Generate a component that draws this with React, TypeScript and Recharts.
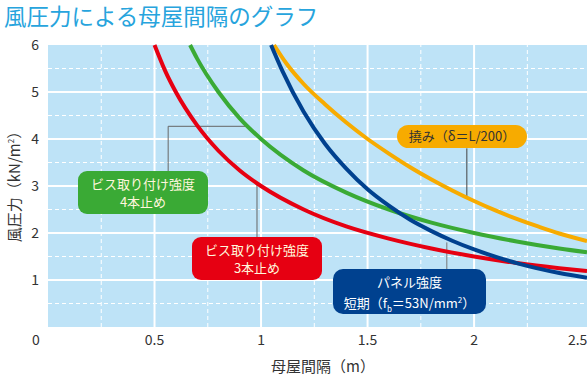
import React from 'react';
import {
  CartesianGrid,
  Line,
  LineChart,
  ReferenceLine,
  XAxis,
  YAxis,
} from 'recharts';

// 母屋間隔 (m) と 風圧力 (kN/m²) — 図から読み取った値
const redX = [0.5, 0.55, 0.6, 0.7, 0.8, 0.9, 1.0, 1.2, 1.4, 1.6, 1.8, 2.0, 2.2, 2.4, 2.53];
const redY = [6.0, 5.45, 5.0, 4.29, 3.75, 3.33, 3.0, 2.5, 2.14, 1.88, 1.67, 1.5, 1.36, 1.25, 1.19];

const greenX = [0.667, 0.7, 0.8, 0.9, 1.0, 1.2, 1.4, 1.6, 1.8, 2.0, 2.2, 2.4, 2.53];
const greenY = [6.0, 5.71, 5.0, 4.44, 4.0, 3.33, 2.86, 2.5, 2.22, 2.0, 1.82, 1.67, 1.59];

const blueX = [1.047, 1.1, 1.2, 1.3, 1.4, 1.5, 1.6, 1.7, 1.8, 1.9, 2.0, 2.2, 2.4, 2.53];
const blueY = [6.0, 5.45, 4.58, 3.9, 3.37, 2.93, 2.58, 2.28, 2.04, 1.83, 1.65, 1.36, 1.15, 1.05];

const orangeX = [1.061, 1.12, 1.2, 1.3, 1.4, 1.5, 1.6, 1.7, 1.8, 1.9, 2.0, 2.1, 2.2, 2.3, 2.4, 2.53];
const orangeY = [6.0, 5.6, 5.17, 4.74, 4.35, 4.0, 3.69, 3.4, 3.14, 2.9, 2.68, 2.48, 2.3, 2.14, 1.99, 1.83];

const xTicks = [0, 0.5, 1, 1.5, 2, 2.5];
const yTicks = [1, 2, 3, 4, 5, 6];
const majorX = [0.5, 1, 1.5, 2];
const minorX = [0.25, 0.75, 1.25, 1.75, 2.25];
const majorY = [1, 2, 3, 4, 5];
const minorY = [0.5, 1.5, 2.5, 3.5, 4.5, 5.5];

const toPoints = (xs: number[], ys: number[]) => xs.map((x, i) => ({ x, v: ys[i] }));

const FONT = '"Noto Sans CJK JP", "Noto Sans", sans-serif';
const BG = '#BEE3F7';

const XTick = (props: any) => {
  const { x, y, payload } = props;
  // 0 は左下角、2.5 は右端に寄せる
  const shift = payload.value === 0 ? -12 : payload.value === 2.5 ? -3 : 0;
  return (
    <text x={x + shift} y={y} dy="0.71em" textAnchor="middle" fill="#333" fontSize={14} fontFamily={FONT}>
      {payload.value}
    </text>
  );
};

const boxBase: React.CSSProperties = {
  position: 'absolute',
  fontFamily: FONT,
  fontSize: 13,
  lineHeight: '18px',
  textAlign: 'center',
  boxSizing: 'border-box',
};

export default function App() {
  return (
    <div style={{ position: 'absolute', left: 0, top: 0, width: 587, height: 377, background: '#fff', overflow: 'hidden' }}>
      <LineChart width={587} height={377} margin={{ top: 45, right: 0, bottom: 20, left: 0 }}>
        <CartesianGrid horizontal={false} vertical={false} fill={BG} stroke="none" />
        <XAxis
          dataKey="x"
          type="number"
          domain={[0, 2.53]}
          ticks={xTicks}
          allowDataOverflow
          axisLine={false}
          tickLine={false}
          height={30}
          tickMargin={2}
          tick={<XTick />}
          interval={0}
        />
        <YAxis
          type="number"
          domain={[0, 6]}
          ticks={yTicks}
          axisLine={false}
          tickLine={false}
          width={48}
          tickMargin={3}
          tick={{ fill: '#333', fontSize: 14, fontFamily: FONT }}
          interval={0}
        />
        {minorX.map((v) => (
          <ReferenceLine key={`mx${v}`} x={v} stroke="#fff" strokeWidth={1} strokeDasharray="4 3" />
        ))}
        {minorY.map((v) => (
          <ReferenceLine key={`my${v}`} y={v} stroke="#fff" strokeWidth={1} strokeDasharray="4 3" />
        ))}
        {majorX.map((v) => (
          <ReferenceLine key={`Mx${v}`} x={v} stroke="#fff" strokeWidth={2} />
        ))}
        {majorY.map((v) => (
          <ReferenceLine key={`My${v}`} y={v} stroke="#fff" strokeWidth={2} />
        ))}

        {/* 引き出し線 */}
        <ReferenceLine segment={[{ x: 0.564, y: 3.31 }, { x: 0.564, y: 4.27 }]} stroke="#666" strokeWidth={1} />
        <ReferenceLine segment={[{ x: 0.564, y: 4.27 }, { x: 0.925, y: 4.27 }]} stroke="#666" strokeWidth={1} />
        <ReferenceLine segment={[{ x: 0.981, y: 1.91 }, { x: 0.981, y: 3.06 }]} stroke="#666" strokeWidth={1} />
        <ReferenceLine segment={[{ x: 1.966, y: 2.75 }, { x: 1.966, y: 3.8 }]} stroke="#444" strokeWidth={1} />
        <ReferenceLine segment={[{ x: 1.872, y: 1.23 }, { x: 1.872, y: 1.8 }]} stroke="#777" strokeWidth={1} />

        <Line data={toPoints(redX, redY)} dataKey="v" type="monotone" stroke="#E60012" strokeWidth={4} dot={false} isAnimationActive={false} />
        <Line data={toPoints(greenX, greenY)} dataKey="v" type="monotone" stroke="#3AAA35" strokeWidth={4} dot={false} isAnimationActive={false} />
        <Line data={toPoints(orangeX, orangeY)} dataKey="v" type="monotone" stroke="#F7AB00" strokeWidth={4} dot={false} isAnimationActive={false} />
        <Line data={toPoints(blueX, blueY)} dataKey="v" type="monotone" stroke="#00418F" strokeWidth={4} dot={false} isAnimationActive={false} />
      </LineChart>

      <div
        style={{
          position: 'absolute',
          left: 4,
          top: 3,
          fontFamily: FONT,
          fontSize: 22.5,
          color: '#27A4DD',
          whiteSpace: 'nowrap',
          lineHeight: '24px',
        }}
      >
        風圧力による母屋間隔のグラフ
      </div>

      {/* y 軸タイトル */}
      <div
        style={{
          position: 'absolute',
          left: 13,
          top: 183,
          transform: 'translate(-50%, -50%) rotate(-90deg)',
          fontFamily: FONT,
          fontSize: 15,
          color: '#333',
          whiteSpace: 'nowrap',
        }}
      >
        風圧力（kN/m<sup style={{ fontSize: 8 }}>2</sup>）
      </div>
      {/* x 軸タイトル */}
      <div
        style={{
          position: 'absolute',
          left: 323,
          top: 365,
          transform: 'translate(-50%, -50%)',
          fontFamily: FONT,
          fontSize: 15,
          color: '#333',
          whiteSpace: 'nowrap',
        }}
      >
        母屋間隔（m）
      </div>

      <div style={{ ...boxBase, left: 78, top: 171, width: 130, height: 43, paddingTop: 4, background: '#3AAA35', color: '#FFF6DC', borderRadius: 9 }}>
        ビス取り付け強度
        <br />4本止め
      </div>
      <div style={{ ...boxBase, left: 192, top: 237, width: 130, height: 43, paddingTop: 4, background: '#E60012', color: '#FFF6DC', borderRadius: 9 }}>
        ビス取り付け強度
        <br />3本止め
      </div>
      <div style={{ ...boxBase, left: 397, top: 125, width: 130, height: 23, paddingTop: 2, background: '#F7AB00', color: '#333', borderRadius: 12 }}>
        撓み（δ＝L/200）
      </div>
      <div style={{ ...boxBase, left: 333, top: 269, width: 153, height: 45, paddingTop: 4, background: '#00418F', color: '#fff', borderRadius: 10 }}>
        パネル強度
        <br />
        短期（f<sub style={{ fontSize: 8 }}>b</sub>＝53N/mm<sup style={{ fontSize: 8 }}>2</sup>）
      </div>
    </div>
  );
}
